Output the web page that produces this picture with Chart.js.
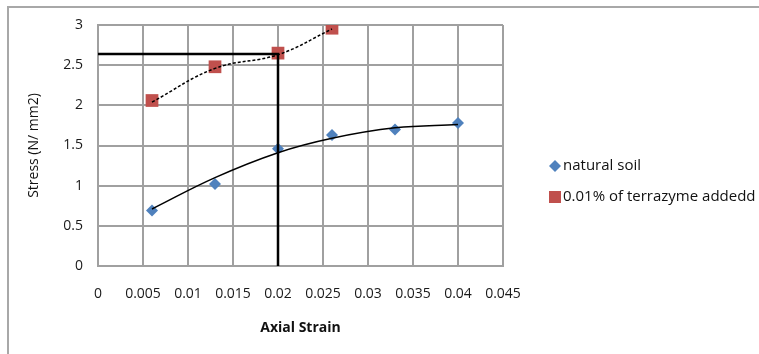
<!DOCTYPE html>
<html>
<head>
<meta charset="utf-8">
<script src="https://cdn.jsdelivr.net/npm/chart.js@4/dist/chart.umd.min.js"></script>
<style>
html,body{margin:0;padding:0;background:#fff;}
canvas{display:block;}
</style>
</head>
<body>
<canvas id="c" width="759" height="354"></canvas>
<script>
// ---- data ----
const strainNatural = [0.006, 0.013, 0.020, 0.026, 0.033, 0.040];
const stressNatural = [0.69, 1.02, 1.46, 1.63, 1.70, 1.78];
const trendNatural  = [0.71, 1.10, 1.41, 1.59, 1.72, 1.76];

const strainTerra = [0.006, 0.013, 0.020, 0.026];
const stressTerra = [2.06, 2.48, 2.65, 2.96];
const trendTerra  = [2.04, 2.46, 2.63, 2.95];

const refStrain = [0, 0.020, 0.020];
const refStress = [2.64, 2.64, 0];

const xTicks = [0, 0.005, 0.01, 0.015, 0.02, 0.025, 0.03, 0.035, 0.04, 0.045];
const xTickLabels = ['0','0.005','0.01','0.015','0.02','0.025','0.03','0.035','0.04','0.045'];
const yTicks = [0, 0.5, 1, 1.5, 2, 2.5, 3];
const yTickLabels = ['0','0.5','1','1.5','2','2.5','3'];

const seriesNames = ['natural soil', '0.01% of terrazyme addedd'];
const seriesColors = ['#4f81bd', '#c0504d'];

const pts = (xs, ys) => xs.map((x, i) => ({x: x, y: ys[i]}));

const FONT = '"Open Sans", Lato, sans-serif';

const framePlugin = {
  id: 'frame',
  beforeDraw(chart) {
    const ctx = chart.ctx;
    ctx.save();
    ctx.strokeStyle = '#a8a8a8';
    ctx.lineWidth = 2;
    ctx.beginPath();
    ctx.moveTo(8, 354);
    ctx.lineTo(8, 7);
    ctx.lineTo(759, 7);
    ctx.stroke();
    ctx.restore();
  }
};

const legendPlugin = {
  id: 'customLegend',
  afterDraw(chart) {
    const ctx = chart.ctx;
    ctx.save();
    ctx.font = '15px ' + FONT;
    ctx.textBaseline = 'middle';
    const y1 = 166, y2 = 197;
    ctx.fillStyle = seriesColors[0];
    ctx.beginPath();
    ctx.moveTo(555, y1 - 6); ctx.lineTo(561, y1); ctx.lineTo(555, y1 + 6); ctx.lineTo(549, y1);
    ctx.closePath(); ctx.fill();
    ctx.fillStyle = seriesColors[1];
    ctx.fillRect(549, y2 - 6, 12, 12);
    ctx.fillStyle = '#111';
    ctx.fillText(seriesNames[0], 563, y1);
    ctx.fillText(seriesNames[1], 563, y2);
    ctx.restore();
  }
};

new Chart(document.getElementById('c'), {
  type: 'scatter',
  data: {
    datasets: [
      {
        label: 'ref',
        type: 'line',
        data: pts(refStrain, refStress),
        borderColor: '#000',
        borderWidth: 2.5,
        pointRadius: 0,
        fill: false,
        tension: 0
      },
      {
        label: 'trend natural',
        type: 'line',
        data: pts(strainNatural, trendNatural),
        borderColor: '#000',
        borderWidth: 1.5,
        pointRadius: 0,
        fill: false,
        tension: 0.4
      },
      {
        label: 'trend terra',
        type: 'line',
        data: pts(strainTerra, trendTerra),
        borderColor: '#000',
        borderWidth: 1.5,
        borderDash: [3, 2],
        pointRadius: 0,
        fill: false,
        tension: 0.4
      },
      {
        label: seriesNames[0],
        data: pts(strainNatural, stressNatural),
        pointStyle: 'rectRot',
        pointRadius: 6,
        backgroundColor: seriesColors[0],
        borderColor: seriesColors[0],
        borderWidth: 0
      },
      {
        label: seriesNames[1],
        data: pts(strainTerra, stressTerra),
        pointStyle: 'rect',
        pointRadius: 9,
        backgroundColor: seriesColors[1],
        borderColor: seriesColors[1],
        borderWidth: 0
      }
    ]
  },
  options: {
    responsive: false,
    animation: false,
    devicePixelRatio: 1,
    layout: { padding: { left: 0, right: 256, top: 25, bottom: 0 } },
    plugins: { legend: { display: false }, tooltip: { enabled: false } },
    scales: {
      x: {
        type: 'linear',
        min: 0, max: 0.045,
        afterBuildTicks(scale) { scale.ticks = xTicks.map(v => ({value: v})); },
        afterFit(scale) { scale.height = 88; },
        grid: { color: '#a0a0a0', lineWidth: 2, drawTicks: false },
        border: { color: '#a0a0a0', width: 2 },
        ticks: {
          padding: 20,
          color: '#1a1a1a',
          font: { family: FONT, size: 14 },
          maxRotation: 0,
          autoSkip: false,
          callback(v, i) { return xTickLabels[i]; }
        },
        title: {
          display: true,
          text: 'Axial Strain',
          color: '#111',
          font: { family: FONT, size: 14, weight: 'bold' },
          padding: { top: 0, bottom: 18 }
        }
      },
      y: {
        type: 'linear',
        min: 0, max: 3,
        afterBuildTicks(scale) { scale.ticks = yTicks.map(v => ({value: v})); },
        afterFit(scale) { scale.width = 98; },
        grid: { color: '#a0a0a0', lineWidth: 2, drawTicks: false },
        border: { color: '#a0a0a0', width: 2 },
        ticks: {
          padding: 15,
          color: '#1a1a1a',
          font: { family: FONT, size: 14 },
          autoSkip: false,
          callback(v, i) { return yTickLabels[i]; }
        },
        title: {
          display: true,
          text: 'Stress (N/ mm2)',
          color: '#111',
          font: { family: FONT, size: 14 },
          padding: { top: 26, bottom: 0 }
        }
      }
    }
  },
  plugins: [framePlugin, legendPlugin]
});
</script>
</body>
</html>
